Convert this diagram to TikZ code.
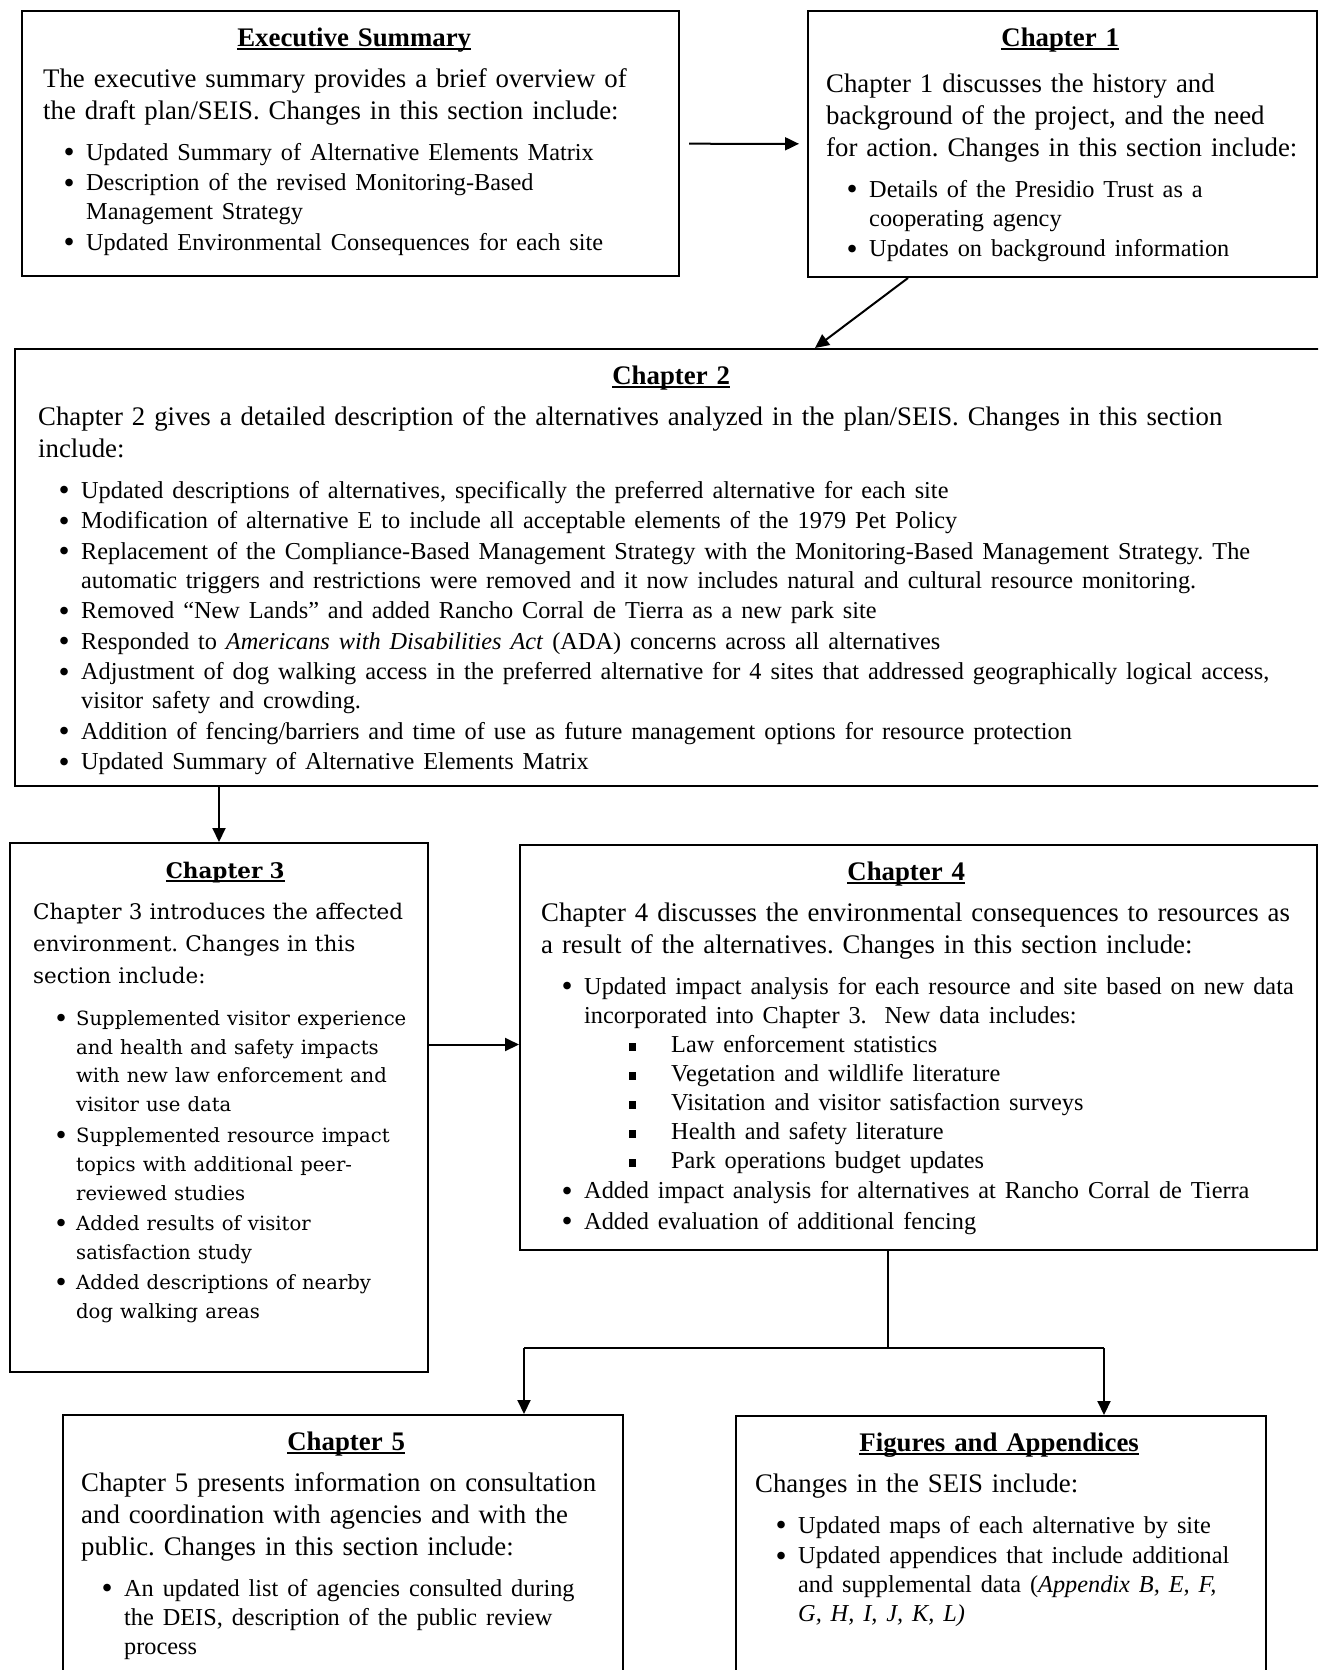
\documentclass[tikz,border=0pt]{standalone}
\usepackage{fontspec}
\setmainfont{Liberation Serif}
\newfontfamily\schfont{DejaVu Serif}
\usetikzlibrary{arrows.meta,positioning}

% box title, bold with a low underline
\newcommand{\ttl}[2]{\makebox[#1]{\setbox0\hbox{\bfseries #2}\rlap{\rule[-4pt]{\wd0}{1.8pt}}\box0}\rule{0pt}{36pt}\par}
\newcommand{\bodyfont}{\fontsize{26.8}{32}\selectfont\frenchspacing\hyphenpenalty=10000}
\newcommand{\schbodyfont}{\schfont\fontsize{21.5}{32}\selectfont\frenchspacing\hyphenpenalty=10000}
\newcommand{\bulfont}{\fontsize{24.3}{29}\selectfont}
\newcommand{\dotb}{\raisebox{-0.1em}{\scalebox{1.3}{\textbullet}}}
\newcommand{\bul}[1]{\par\vspace{1.5pt}\hangindent=43pt\hangafter=1\noindent\makebox[43pt][l]{\hspace{20.5pt}\dotb}#1\par}
\newcommand{\sqb}[1]{\par\hangindent=130pt\hangafter=1\noindent\makebox[130pt][l]{\hspace{88pt}\rule[1pt]{7pt}{8pt}}#1\par}

\begin{document}
\begin{tikzpicture}[x=1pt,y=-1pt,
  frame/.style={draw, line width=2pt, anchor=north west, inner sep=0pt},
  chtext/.style={anchor=north west, inner sep=0pt, align=left, font=\bodyfont},
  flow/.style={-{Triangle[length=14pt,width=13pt]}, line width=2pt}]

\clip (0,0) rectangle (1318,1670);

% frames
\node[frame, minimum width=657pt, minimum height=265pt] (exec) at (21,10) {};
\node[frame, minimum width=509pt, minimum height=266pt] (ch1) at (807,10) {};
\node[frame, minimum width=1330pt, minimum height=437pt] (ch2) at (14,348) {};
\node[frame, minimum width=418pt, minimum height=529pt] (ch3) at (9,842) {};
\node[frame, minimum width=797pt, minimum height=405pt] (ch4) at (519,844) {};
\node[frame, minimum width=560pt, minimum height=400pt] (ch5) at (62,1414) {};
\node[frame, minimum width=530pt, minimum height=400pt] (fig) at (735,1415) {};

% texts
\node[chtext, text width=630pt] (exectxt) at ([xshift=22pt]exec.north west) {%
  \ttl{622pt}{Executive Summary}\vspace{9pt}
  The executive summary provides a brief overview of\newline
  the draft plan/SEIS. Changes in this section include:\par
  \bulfont\vspace{10.5pt}
  \bul{Updated Summary of Alternative Elements Matrix}
  \bul{Description of the revised Monitoring-Based\newline Management Strategy}
  \bul{Updated Environmental Consequences for each site}};

\node[chtext, text width=495pt] (ch1txt) at ([xshift=19pt]ch1.north west) {%
  \ttl{468pt}{Chapter 1}\vspace{14pt}
  Chapter 1 discusses the history and\newline
  background of the project, and the need\newline
  for action. Changes in this section include:\par
  \bulfont\vspace{10.5pt}
  \bul{Details of the Presidio Trust as a\newline cooperating agency}
  \bul{Updates on background information}};

\node[chtext, text width=1300pt] (ch2txt) at ([xshift=24pt]ch2.north west) {%
  \ttl{1266pt}{Chapter 2}\vspace{9pt}
  Chapter 2 gives a detailed description of the alternatives analyzed in the plan/SEIS. Changes in this section\newline
  include:\par
  \bulfont\vspace{10.5pt}
  \bul{Updated descriptions of alternatives, specifically the preferred alternative for each site}
  \bul{Modification of alternative E to include all acceptable elements of the 1979 Pet Policy}
  \bul{Replacement of the Compliance-Based Management Strategy with the Monitoring-Based Management Strategy. The\newline
    automatic triggers and restrictions were removed and it now includes natural and cultural resource monitoring.}
  \bul{Removed “New Lands” and added Rancho Corral de Tierra as a new park site}
  \bul{Responded to \textit{Americans with Disabilities Act} (ADA) concerns across all alternatives}
  \bul{Adjustment of dog walking access in the preferred alternative for 4 sites that addressed geographically logical access,\newline
    visitor safety and crowding.}
  \bul{Addition of fencing/barriers and time of use as future management options for resource protection}
  \bul{Updated Summary of Alternative Elements Matrix}};

\node[chtext, text width=400pt, font=\schbodyfont] (ch3txt) at ([xshift=24pt]ch3.north west) {%
  \ttl{384pt}{Chapter 3}\vspace{9pt}
  Chapter 3 introduces the affected\newline
  environment. Changes in this\newline
  section include:\par
  \fontsize{19.6}{28.9}\selectfont\vspace{11.5pt}
  \bul{Supplemented visitor experience\newline and health and safety impacts\newline
    with new law enforcement and\newline visitor use data}
  \bul{Supplemented resource impact\newline topics with additional peer-\newline reviewed studies}
  \bul{Added results of visitor\newline satisfaction study}
  \bul{Added descriptions of nearby\newline dog walking areas}};

\node[chtext, text width=790pt] (ch4txt) at ([xshift=22pt]ch4.north west) {%
  \ttl{730pt}{Chapter 4}\vspace{9pt}
  Chapter 4 discusses the environmental consequences to resources as\newline
  a result of the alternatives. Changes in this section include:\par
  \bulfont\vspace{10.5pt}
  \bul{Updated impact analysis for each resource and site based on new data\newline
    incorporated into Chapter 3.\ \ New data includes:}
  \sqb{Law enforcement statistics}
  \sqb{Vegetation and wildlife literature}
  \sqb{Visitation and visitor satisfaction surveys}
  \sqb{Health and safety literature}
  \sqb{Park operations budget updates}
  \bul{Added impact analysis for alternatives at Rancho Corral de Tierra}
  \bul{Added evaluation of additional fencing}};

\node[chtext, text width=540pt] (ch5txt) at ([xshift=19pt]ch5.north west) {%
  \ttl{530pt}{Chapter 5}\vspace{9pt}
  Chapter 5 presents information on consultation\newline
  and coordination with agencies and with the\newline
  public. Changes in this section include:\par
  \bulfont\vspace{10.5pt}
  \bul{An updated list of agencies consulted during\newline the DEIS, description of the public review\newline process}};

\node[chtext, text width=510pt] (figtxt) at ([xshift=20pt]fig.north west) {%
  \ttl{488pt}{Figures and Appendices}\vspace{9pt}
  Changes in the SEIS include:\par
  \bulfont\vspace{10.5pt}
  \bul{Updated maps of each alternative by site}
  \bul{Updated appendices that include additional\newline
    and supplemental data (\textit{Appendix B, E, F,\newline G, H, I, J, K, L)}}};

% connectors
\draw[flow, shorten <=9pt, shorten >=8pt] (exec) -- (ch1);
\draw[flow] ([xshift=101pt]ch1.south west) -- ([xshift=801pt]ch2.north west);
\draw[flow] (ch2.south -| ch3.north) -- (ch3.north);
\draw[flow] ([yshift=63pt]ch3.east) -- ([yshift=63pt]ch3.east -| ch4.west);

\coordinate (fork) at (888,1348);
\coordinate (forkl) at (524,1348);
\coordinate (forkr) at (1104,1348);
\draw[line width=2pt] (ch4.south -| fork) -- (fork);
\draw[line width=2pt] (forkl) -- (forkr);
\draw[flow] (forkl) -- (forkl |- ch5.north);
\draw[flow] (forkr) -- (forkr |- fig.north);

\end{tikzpicture}
\end{document}
